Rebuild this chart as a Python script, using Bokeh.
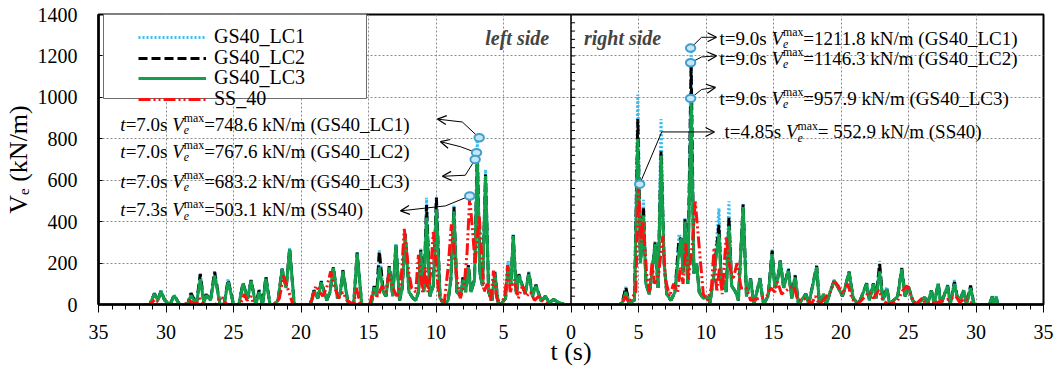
import math
from bokeh.plotting import figure
from bokeh.models import (FixedTicker, CustomJSTickFormatter, Span, Label, Legend, LegendItem,
                          BoxAnnotation, Arrow, OpenHead)
from bokeh.embed import file_html
from bokeh.resources import INLINE

# ---------------- data (times in s, values in kN/m) ----------------
# left side (time measured from the centre towards the left)
left_t = [0.0, 0.5, 1.0, 1.3, 1.6, 1.9, 2.2, 2.6, 2.85, 3.12,
          3.4, 3.86, 4.05, 4.28, 4.45, 4.65, 4.85, 5.2, 5.4, 5.64,
          5.85, 6.1, 6.33, 6.55, 6.75, 6.94, 7.15, 7.4, 7.6, 7.8,
          8.0, 8.2, 8.45, 8.67, 8.9, 9.1, 9.4, 9.7, 9.97, 10.2,
          10.45, 10.7, 10.9, 11.13, 11.3, 11.5, 11.7, 12.0, 12.28, 12.5,
          12.7, 12.97, 13.2, 13.46, 13.7, 13.9, 14.2, 14.4, 14.58, 14.8,
          15.5, 15.84, 16.1, 16.5, 16.9, 17.1, 17.3, 17.6, 17.85, 18.1,
          18.5, 18.75, 19.04, 19.3, 20.5, 20.84, 21.1, 21.4, 21.7, 22.0,
          22.3, 22.6, 22.85, 23.1, 23.35, 23.7, 23.95, 24.3, 24.6, 25.0,
          25.4, 25.7, 26.0, 26.4, 26.7, 27.0, 27.2, 27.46, 27.75, 28.15,
          28.4, 29.0, 29.4, 29.7, 30.1, 30.37, 30.6, 30.86, 31.2, 31.6]
lc3_left = [0, 0, 12, 25, 8, 40, 15, 90, 40, 147,
            50, 140, 50, 331, 90, 180, 30, 0, 10, 150,
            20, 60, 620, 90, 150, 700, 120, 60, 180, 60,
            120, 40, 60, 450, 120, 20, 0, 30, 460, 90,
            40, 420, 60, 255, 60, 20, 30, 60, 335, 80,
            20, 288, 40, 179, 40, 60, 180, 40, 83, 0,
            0, 246, 0, 0, 160, 50, 30, 176, 60, 20,
            107, 30, 64, 0, 0, 267, 80, 170, 20, 0,
            0, 125, 0, 60, 0, 115, 30, 100, 0, 0,
            110, 0, 0, 140, 20, 45, 10, 123, 0, 45,
            0, 0, 43, 0, 20, 64, 20, 51, 0, 0]
lc2_left = [0, 0, 12, 25, 8, 40, 15, 95, 40, 155,
            50, 145, 50, 335, 90, 185, 30, 0, 10, 155,
            20, 60, 627, 90, 150, 733, 120, 60, 190, 60,
            130, 40, 60, 470, 120, 20, 0, 30, 515, 90,
            40, 480, 60, 262, 60, 20, 30, 60, 340, 80,
            20, 290, 40, 185, 40, 60, 256, 40, 88, 0,
            0, 250, 0, 0, 165, 50, 30, 180, 60, 20,
            112, 30, 68, 0, 0, 270, 80, 172, 20, 0,
            0, 134, 0, 70, 0, 118, 30, 104, 0, 0,
            120, 0, 0, 158, 20, 48, 10, 147, 0, 55,
            0, 0, 45, 0, 20, 66, 20, 53, 0, 0]
lc1_left = [0, 0, 12, 25, 8, 42, 15, 95, 40, 158,
            50, 148, 50, 338, 90, 211, 30, 0, 10, 163,
            20, 60, 651, 90, 150, 805, 120, 60, 195, 60,
            135, 40, 60, 480, 120, 20, 0, 30, 520, 90,
            40, 515, 60, 270, 60, 20, 30, 60, 345, 80,
            20, 292, 40, 188, 40, 60, 262, 40, 95, 0,
            0, 252, 0, 0, 167, 50, 30, 182, 60, 20,
            114, 30, 70, 0, 0, 272, 80, 175, 20, 0,
            0, 136, 0, 72, 0, 120, 30, 106, 0, 0,
            122, 0, 0, 160, 20, 52, 10, 150, 0, 57,
            0, 0, 46, 0, 20, 68, 20, 55, 0, 0]

right_t = [0.0, 3.6, 3.8, 4.06, 4.3, 4.7, 4.95, 5.15, 5.37, 5.55,
           5.8, 6.0, 6.23, 6.45, 6.67, 6.9, 7.1, 7.4, 7.7, 8.0,
           8.15, 8.3, 8.44, 8.65, 8.9, 9.1, 9.3, 9.5, 9.8, 10.1,
           10.3, 10.6, 10.96, 11.15, 11.3, 11.5, 11.7, 11.9, 12.2, 12.4,
           12.75, 13.0, 13.3, 13.55, 14.0, 14.25, 14.6, 14.9, 15.1, 15.3,
           15.5, 15.75, 16.1, 16.35, 16.6, 16.85, 17.4, 17.6, 18.2, 18.4,
           18.7, 18.9, 19.2, 19.5, 19.8, 20.1, 20.3, 20.6, 20.9, 21.3,
           21.9, 22.1, 22.4, 22.6, 22.86, 23.1, 23.4, 23.6, 24.2, 24.5,
           24.75, 25.0, 25.3, 25.6, 26.2, 26.4, 26.7, 26.9, 27.2, 27.4,
           27.9, 28.1, 28.4, 28.6, 28.8, 29.1, 29.3, 29.6, 29.85, 31.0,
           31.2, 31.35, 31.5, 31.6]
lc3_right = [0, 0, 10, 60, 10, 20, 800, 200, 430, 100,
             50, 150, 292, 80, 719, 200, 50, 20, 60, 260,
             320, 150, 400, 100, 995, 150, 200, 60, 30, 35,
             10, 150, 340, 80, 115, 60, 380, 90, 60, 20,
             470, 40, 123, 0, 123, 0, 40, 243, 80, 120,
             210, 80, 163, 30, 131, 0, 51, 0, 180, 0,
             51, 0, 60, 115, 80, 40, 80, 155, 30, 0,
             100, 20, 100, 30, 160, 20, 75, 0, 40, 171,
             40, 83, 20, 0, 35, 0, 67, 0, 100, 0,
             90, 0, 100, 40, 20, 67, 0, 80, 0, 0,
             38, 0, 38, 0]
lc2_right = [0, 0, 10, 83, 10, 20, 895, 200, 470, 100,
             50, 150, 300, 80, 738, 200, 50, 20, 60, 315,
             320, 150, 411, 100, 1167, 150, 200, 60, 30, 35,
             10, 150, 385, 80, 115, 60, 420, 90, 60, 20,
             483, 40, 125, 0, 125, 0, 40, 260, 80, 120,
             212, 80, 170, 30, 140, 0, 51, 0, 185, 0,
             51, 0, 60, 118, 80, 40, 80, 158, 30, 0,
             102, 20, 102, 30, 195, 20, 80, 0, 40, 175,
             40, 85, 20, 0, 35, 0, 68, 0, 102, 0,
             92, 0, 108, 40, 20, 68, 0, 91, 0, 0,
             38, 0, 38, 0]
lc1_right = [0, 0, 10, 85, 10, 20, 1014, 200, 505, 100,
             50, 150, 305, 80, 895, 200, 50, 20, 60, 340,
             320, 150, 420, 100, 1238, 150, 200, 60, 30, 35,
             10, 150, 464, 80, 118, 60, 498, 90, 60, 20,
             490, 40, 130, 0, 128, 0, 40, 265, 80, 120,
             215, 80, 175, 30, 145, 0, 53, 0, 190, 0,
             52, 0, 60, 120, 80, 40, 80, 160, 30, 0,
             104, 20, 104, 30, 211, 20, 85, 0, 40, 178,
             40, 87, 20, 0, 36, 0, 70, 0, 104, 0,
             94, 0, 118, 40, 20, 70, 0, 93, 0, 0,
             40, 0, 40, 0]

ss_left_t = [0.0, 1.5, 2.0, 2.4, 2.7, 3.0, 3.3, 3.6, 3.9, 4.2,
             4.5, 4.7, 4.9, 5.2, 5.5, 5.74, 5.95, 6.2, 6.45, 6.8,
             7.1, 7.5, 7.7, 7.9, 8.2, 8.5, 8.86, 9.1, 9.4, 9.8,
             10.2, 10.4, 10.6, 10.8, 11.0, 11.3, 11.5, 11.8, 12.0, 12.35,
             12.6, 12.9, 13.2, 13.5, 13.7, 14.0, 14.3, 14.7, 14.9, 15.6,
             15.9, 16.1, 16.6, 16.9, 17.2, 17.5, 17.8, 18.1, 18.4, 18.9,
             19.2, 19.5, 20.6, 20.9, 21.3, 21.6, 22.0, 23.5, 23.7, 24.0,
             24.2, 24.5, 25.5, 25.8, 26.0, 26.3, 27.2, 27.5, 27.8, 28.3,
             28.6, 30.4, 30.8, 31.2, 31.6]
ss_left = [0, 0, 10, 40, 20, 60, 40, 90, 30, 120,
           60, 190, 40, 0, 30, 163, 20, 100, 60, 430,
           200, 520, 250, 100, 30, 150, 387, 180, 0, 50,
           350, 150, 60, 180, 60, 240, 60, 80, 150, 365,
           100, 40, 80, 150, 60, 90, 40, 60, 0, 0,
           80, 0, 20, 60, 30, 80, 160, 80, 40, 90,
           20, 0, 0, 60, 140, 30, 0, 0, 40, 20,
           50, 0, 0, 30, 35, 0, 0, 30, 0, 20,
           0, 0, 25, 0, 0]
ss_right_t = [0.0, 3.8, 4.0, 4.3, 4.8, 5.0, 5.2, 5.35, 5.6, 5.8,
              6.0, 6.2, 6.5, 6.8, 7.0, 7.3, 7.6, 7.9, 8.1, 8.3,
              8.5, 8.7, 9.0, 9.2, 9.4, 9.6, 9.8, 10.1, 10.4, 10.6,
              10.8, 11.0, 11.2, 11.5, 11.7, 12.0, 12.3, 12.6, 13.0, 13.3,
              14.0, 14.5, 14.8, 15.1, 15.3, 15.6, 16.0, 16.5, 16.8, 17.5,
              17.8, 18.1, 18.4, 19.2, 19.5, 19.8, 20.1, 20.5, 20.8, 21.2,
              21.8, 22.1, 22.4, 22.8, 23.1, 23.5, 24.2, 24.6, 24.9, 25.2,
              25.5, 26.0, 26.2, 26.6, 28.2, 28.5, 28.8, 29.2, 29.6, 30.0,
              31.6]
ss_right = [0, 0, 40, 10, 60, 581, 300, 400, 150, 60,
            200, 100, 150, 330, 120, 40, 100, 60, 180, 100,
            300, 120, 300, 500, 350, 200, 50, 20, 80, 275,
            60, 180, 50, 330, 200, 120, 200, 80, 80, 20,
            30, 40, 80, 60, 110, 50, 70, 90, 20, 30,
            0, 40, 0, 60, 110, 90, 50, 100, 30, 0,
            40, 60, 30, 70, 20, 0, 20, 70, 90, 40,
            0, 30, 10, 0, 30, 40, 10, 30, 10, 0,
            0]

series_names = ["GS40_LC1", "GS40_LC2", "GS40_LC3", "SS_40"]

# peak markers (as drawn) and their annotation texts
mark_left_t = [6.8, 7.0, 7.1, 7.5]
mark_left_v = [805, 733, 700, 524]
mark_right_t = [8.86, 8.86, 8.86, 5.09]
mark_right_v = [1238, 1167, 995, 581]
ann_left_time = ["7.0", "7.0", "7.0", "7.3"]
ann_left_vmax = ["748.6", "767.6", "683.2", "503.1"]
ann_left_case = ["GS40_LC1", "GS40_LC2", "GS40_LC3", "SS40"]
ann_right_time = ["9.0", "9.0", "9.0", "4.85"]
ann_right_vmax = ["1211.8", "1146.3", "957.9", " 552.9"]
ann_right_case = ["GS40_LC1", "GS40_LC2", "GS40_LC3", "SS40"]

x_ticks = list(range(-35, 36, 5))
y_ticks = list(range(0, 1401, 200))

# ---------------- figure ----------------
SERIF = "Liberation Serif"
p = figure(width=1060, height=368, x_range=(-35, 35), y_range=(0, 1400),
           output_backend="svg", toolbar_location=None,
           min_border_left=95, min_border_right=17, min_border_top=14, min_border_bottom=60)
p.outline_line_color = "black"
p.outline_line_width = 2
p.outline_line_alpha = 1.0
p.background_fill_color = "white"

p.xaxis.ticker = FixedTicker(ticks=x_ticks, minor_ticks=list(range(-35, 36)))
p.xaxis.formatter = CustomJSTickFormatter(code="return String(Math.abs(tick));")
p.yaxis.ticker = FixedTicker(ticks=y_ticks)
for ax in (p.xaxis[0], p.yaxis[0]):
    ax.axis_line_width = 2.5
    ax.axis_line_color = "black"
    ax.major_label_text_font = SERIF
    ax.major_label_text_font_size = "20px"
    ax.major_label_text_color = "black"
    ax.major_tick_line_color = "black"
    ax.axis_label_text_font = SERIF
    ax.axis_label_text_font_size = "26px"
    ax.axis_label_text_font_style = "normal"
    ax.axis_label_text_color = "black"
p.xaxis.major_tick_out = 8
p.xaxis.major_tick_in = 0
p.xaxis.minor_tick_out = 5
p.xaxis.minor_tick_in = 0
p.xaxis.minor_tick_line_color = "black"
p.xaxis.major_label_standoff = 12
p.xaxis.axis_label = "t (s)"
p.xaxis.axis_label_standoff = -5
p.yaxis.major_tick_in = 4
p.yaxis.major_tick_out = 0
p.yaxis.minor_tick_line_color = None
p.yaxis.major_label_standoff = 21
p.yaxis.axis_label = "V\u2091 (kN/m)"
p.yaxis.axis_label_standoff = 2

p.xgrid.ticker = FixedTicker(ticks=x_ticks)
p.ygrid.ticker = FixedTicker(ticks=y_ticks)
p.grid.grid_line_color = "#8c8c8c"
p.grid.grid_line_dash = "2 2"
p.grid.grid_line_width = 1


def both_sides(lt, lv, rt, rv):
    xs = [-t for t in reversed(lt)] + list(rt)
    vs = list(reversed(lv)) + list(rv)
    return xs, vs


x1, v1 = both_sides(left_t, lc1_left, right_t, lc1_right)
x2, v2 = both_sides(left_t, lc2_left, right_t, lc2_right)
x3, v3 = both_sides(left_t, lc3_left, right_t, lc3_right)
x4, v4 = both_sides(ss_left_t, ss_left, ss_right_t, ss_right)

r1 = p.line(x1, v1, line_color="#3cbef0", line_width=3, line_dash="2 2")
r2 = p.line(x2, v2, line_color="black", line_width=3, line_dash="9 4")
r3 = p.line(x3, v3, line_color="#12a04a", line_width=3)
r4 = p.line(x4, v4, line_color="#ff1010", line_width=3, line_dash="12 3 2 3 2 3")

# centre axis with ticks
p.add_layout(Span(location=0, dimension="height", line_color="black", line_width=1.5))
ctr = [v for v in range(40, 1400, 40)]
p.segment(x0=[0] * len(ctr), y0=ctr, x1=[0.3] * len(ctr), y1=ctr, line_color="black", line_width=1)

# legend: frame box plus one row per series (fixed row pitch)
p.add_layout(BoxAnnotation(left=5, right=268, bottom=206, top=292,
                           left_units="screen", right_units="screen",
                           bottom_units="screen", top_units="screen",
                           fill_color="white", fill_alpha=1.0,
                           line_color="#6e6e6e", line_width=1, line_alpha=1.0))
row_y = [256, 235, 215, 194]
for name, rend, ly in zip(series_names, [r1, r2, r3, r4], row_y):
    p.add_layout(Legend(items=[LegendItem(label=name, renderers=[rend])],
                        location=(40, ly), padding=0, margin=0, spacing=0,
                        glyph_width=68, glyph_height=20, label_height=20, label_standoff=8,
                        border_line_alpha=0, background_fill_alpha=0,
                        label_text_font=SERIF, label_text_font_size="20px", label_text_color="black"))

# ---------------- rich text helper ----------------
W_REG = {' ': 250, '=': 564, '.': 250, 's': 389, 'k': 500, 'N': 722, '/': 278, 'm': 778,
         'a': 444, 'x': 500, '(': 333, ')': 333, 'G': 722, 'S': 556, '_': 500, 'L': 611,
         'C': 667, 't': 278, 'e': 444, 'V': 722}
W_ITA = {'t': 278, 'V': 611, 'e': 444, 'f': 278}


def tw(s, size, italic=False):
    tab = W_ITA if italic else W_REG
    return sum(tab.get(c, 500) for c in s) * size / 1000.0


def rich(x, y, segs, size, x_off=0.0, y_off=0.0):
    """segs: list of (text, style, scale, shift_em, advance)"""
    pos = 0.0
    for text, style, scale, shift, adv in segs:
        fs = size * scale
        ital = "italic" in style
        lead = len(text) - len(text.lstrip(" "))
        start = pos + tw(" " * lead, fs, ital)
        body = text.strip(" ")
        p.add_layout(Label(x=x, y=y, x_offset=x_off + start, y_offset=y_off + shift * size, text=body,
                           text_font=SERIF, text_font_size=f"{fs:.1f}px", text_font_style=style,
                           text_color="black", text_align="left", text_baseline="middle"))
        if adv:
            pos += tw(text, fs, ital)


def vmax_segs(t_italic, tval, vval, case):
    return [("t", "italic" if t_italic else "normal", 1.0, 0.0, True),
            ("=" + tval + "s ", "normal", 1.0, 0.0, True),
            ("V", "italic", 1.0, 0.0, True),
            ("e", "italic", 0.62, -0.3, False),
            ("max", "normal", 0.62, 0.33, True),
            ("=" + vval + " kN/m (" + case + ")", "normal", 1.0, 0.0, True)]


ANN = 19
left_text_y = [871, 738, 595, 457]
for i in range(4):
    rich(-33.38, left_text_y[i], vmax_segs(True, ann_left_time[i], ann_left_vmax[i], ann_left_case[i]), ANN)
right_text_pos = [(11.0, 1286), (11.0, 1190), (11.0, 995), (11.37, 833)]
for i in range(4):
    rx, ry = right_text_pos[i]
    rich(rx, ry, vmax_segs(False, ann_right_time[i], ann_right_vmax[i], ann_right_case[i]), ANN)

# arrows: marker -> elbow (line), elbow -> tip (arrow)
left_elbow = [(-8.05, 881), (-8.2, 762), (-7.83, 624), (-9.3, 476)]
left_tip = [(-9.9, 895), (-9.67, 786), (-9.53, 619), (-12.63, 452)]
right_elbow = [(9.67, 1290), (9.67, 1195), (9.67, 1038), (6.72, 833)]
right_tip = [(10.78, 1290), (10.78, 1200), (10.7, 1048), (10.63, 833)]
mx = [-t for t in mark_left_t] + list(mark_right_t)
mv = list(mark_left_v) + list(mark_right_v)
elb = left_elbow + right_elbow
tips = left_tip + right_tip
p.multi_line(xs=[[mx[i], elb[i][0]] for i in range(8)], ys=[[mv[i], elb[i][1]] for i in range(8)],
             line_color="black", line_width=1)
for i in range(8):
    p.add_layout(Arrow(end=OpenHead(size=9, line_width=1.2, line_color="black"),
                       x_start=elb[i][0], y_start=elb[i][1], x_end=tips[i][0], y_end=tips[i][1],
                       line_color="black", line_width=1))
p.ellipse(x=mx, y=mv, width=0.7, height=36, fill_color="#c4e6f6", line_color="#3f9fcf", line_width=2)

# side labels
p.add_layout(Label(x=-1.62, y=1286, text="left side", text_font=SERIF, text_font_size="20px",
                   text_font_style="bold italic", text_align="right", text_baseline="middle"))
p.add_layout(Label(x=0.96, y=1286, text="right side", text_font=SERIF, text_font_size="20px",
                   text_font_style="bold italic", text_align="left", text_baseline="middle"))

open("out.html", "w").write(file_html(p, INLINE))
